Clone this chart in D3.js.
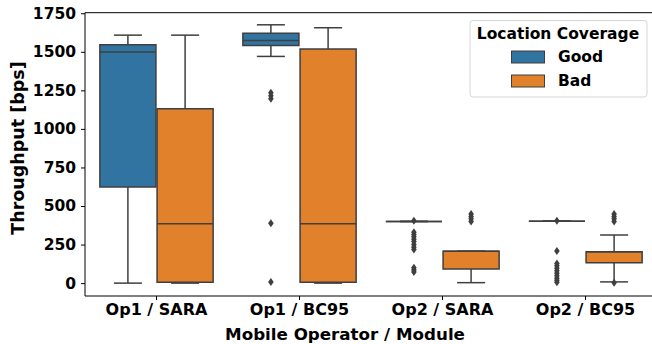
<!DOCTYPE html>
<html>
<head>
<meta charset="utf-8">
<script src="https://cdn.jsdelivr.net/npm/d3@7"></script>
<style>
  body { margin: 0; background: #fff; }
  svg { display: block; font-family: "DejaVu Sans", sans-serif; font-weight: bold; }
</style>
</head>
<body>
<div id="chart"></div>
<script>
// Throughput box plots by operator / module, split by location coverage

var categories = ["Op1 / SARA", "Op1 / BC95", "Op2 / SARA", "Op2 / BC95"];
var hues = ["Good", "Bad"];
var yTicks = [0, 250, 500, 750, 1000, 1250, 1500, 1750];

// [lower whisker, q1, median, q3, upper whisker]
var goodStats = [
  [0, 623, 1498, 1545, 1608],
  [1470, 1541, 1573, 1621, 1675],
  [400, 400, 400, 400, 400],
  [402, 402, 402, 402, 402]
];
var badStats = [
  [0, 5, 385, 1130, 1608],
  [0, 5, 385, 1518, 1656],
  [3, 92, 207, 207, 207],
  [8, 132, 204, 204, 312]
];
var goodOutliers = [
  [],
  [1235, 1215, 1195, 388, 8],
  [405, 330, 315, 300, 285, 270, 250, 232, 218, 100, 85, 72],
  [405, 208, 128, 112, 96, 80, 64, 48, 32, 18, 5]
];
var badOutliers = [
  [],
  [],
  [448, 432, 418, 400],
  [448, 432, 418, 400, 3]
];

var colors = {Good: "#3274a1", Bad: "#e1812c"};
var edge = "#3f3f3f";

var svgWidth = 652, svgHeight = 344;
var margin = {left: 85, top: 12.7, bottom: 296};

var svg = d3.select("#chart").append("svg")
  .attr("width", svgWidth)
  .attr("height", svgHeight);

var x = d3.scaleBand()
  .domain(categories)
  .range([margin.left, margin.left + 572])
  .padding(0);

var y = d3.scaleLinear()
  .domain([-83.5, 1753.5])
  .range([margin.bottom, margin.top]);

var step = x.step();
var boxW = step * 0.392;

function center(cat, hue) {
  var c = x(cat) + step / 2;
  return hue === "Good" ? c - step * 0.2 : c + step * 0.2;
}

var rows = [];
categories.forEach(function(cat, i) {
  rows.push({cat: cat, hue: "Good", s: goodStats[i], out: goodOutliers[i]});
  rows.push({cat: cat, hue: "Bad", s: badStats[i], out: badOutliers[i]});
});

var plot = svg.append("g");

rows.forEach(function(r) {
  var cx = center(r.cat, r.hue);
  var g = plot.append("g");
  var s = r.s;
  // whiskers
  g.append("line")
    .attr("x1", cx).attr("x2", cx)
    .attr("y1", y(s[0])).attr("y2", y(s[1]))
    .attr("stroke", edge).attr("stroke-width", 1.5);
  g.append("line")
    .attr("x1", cx).attr("x2", cx)
    .attr("y1", y(s[3])).attr("y2", y(s[4]))
    .attr("stroke", edge).attr("stroke-width", 1.5);
  // caps
  [s[0], s[4]].forEach(function(v) {
    g.append("line")
      .attr("x1", cx - boxW / 4).attr("x2", cx + boxW / 4)
      .attr("y1", y(v)).attr("y2", y(v))
      .attr("stroke", edge).attr("stroke-width", 1.5);
  });
  // box (path so a zero-height box still draws)
  var x0 = cx - boxW / 2, x1 = cx + boxW / 2;
  g.append("path")
    .attr("d", "M" + x0 + "," + y(s[1]) + "H" + x1 + "V" + y(s[3]) + "H" + x0 + "Z")
    .attr("fill", colors[r.hue])
    .attr("stroke", edge).attr("stroke-width", 1.5);
  // median
  g.append("line")
    .attr("x1", x0).attr("x2", x1)
    .attr("y1", y(s[2])).attr("y2", y(s[2]))
    .attr("stroke", edge).attr("stroke-width", 1.5);
  // outliers as thin diamonds
  g.selectAll("path.flier").data(r.out).enter().append("path")
    .attr("class", "flier")
    .attr("d", function(v) {
      var yy = y(v);
      return "M" + cx + "," + (yy - 4) + "L" + (cx + 2.8) + "," + yy +
        "L" + cx + "," + (yy + 4) + "L" + (cx - 2.8) + "," + yy + "Z";
    })
    .attr("fill", edge);
});

// axes
var yAxis = svg.append("g")
  .attr("transform", "translate(" + margin.left + ",0)")
  .call(d3.axisLeft(y).tickValues(yTicks).tickFormat(d3.format("d"))
    .tickSize(4).tickPadding(5));
yAxis.select(".domain").remove();
yAxis.selectAll("text").attr("font-size", 15.5).attr("font-weight", "bold")
  .attr("font-family", "DejaVu Sans").attr("fill", "#000");

var xAxis = svg.append("g")
  .attr("transform", "translate(0," + margin.bottom + ")")
  .call(d3.axisBottom(x).tickSize(4).tickPadding(4));
xAxis.select(".domain").remove();
xAxis.selectAll("text").attr("font-size", 16).attr("font-weight", "bold")
  .attr("font-family", "DejaVu Sans").attr("fill", "#000");

// spines
svg.append("line").attr("x1", margin.left).attr("x2", margin.left)
  .attr("y1", margin.top).attr("y2", margin.bottom)
  .attr("stroke", "#000").attr("stroke-width", 1);
svg.append("line").attr("x1", margin.left).attr("x2", svgWidth)
  .attr("y1", margin.bottom).attr("y2", margin.bottom)
  .attr("stroke", "#000").attr("stroke-width", 1);
svg.append("line").attr("x1", margin.left).attr("x2", svgWidth)
  .attr("y1", margin.top).attr("y2", margin.top)
  .attr("stroke", "#000").attr("stroke-width", 1);

// axis labels
svg.append("text")
  .attr("x", 345).attr("y", 340)
  .attr("text-anchor", "middle")
  .attr("font-size", 16.7)
  .text("Mobile Operator / Module");

svg.append("text")
  .attr("transform", "translate(24,148) rotate(-90)")
  .attr("text-anchor", "middle")
  .attr("font-size", 17.5)
  .text("Throughput [bps]");

// legend
var legend = svg.append("g");
legend.append("rect")
  .attr("x", 470).attr("y", 20.5).attr("width", 177).attr("height", 76.5)
  .attr("rx", 3).attr("fill", "#fff").attr("fill-opacity", 0.8)
  .attr("stroke", "#d5d5d5").attr("stroke-width", 1);
legend.append("text")
  .attr("x", 558).attr("y", 39)
  .attr("text-anchor", "middle")
  .attr("font-size", 15.5)
  .text("Location Coverage");
hues.forEach(function(h, i) {
  var yy = 51 + i * 24;
  legend.append("rect")
    .attr("x", 511.5).attr("y", yy).attr("width", 33).attr("height", 12)
    .attr("fill", colors[h]).attr("stroke", edge).attr("stroke-width", 1);
  legend.append("text")
    .attr("x", 558).attr("y", yy + 11)
    .attr("font-size", 15.5)
    .text(h);
});
</script>
</body>
</html>
